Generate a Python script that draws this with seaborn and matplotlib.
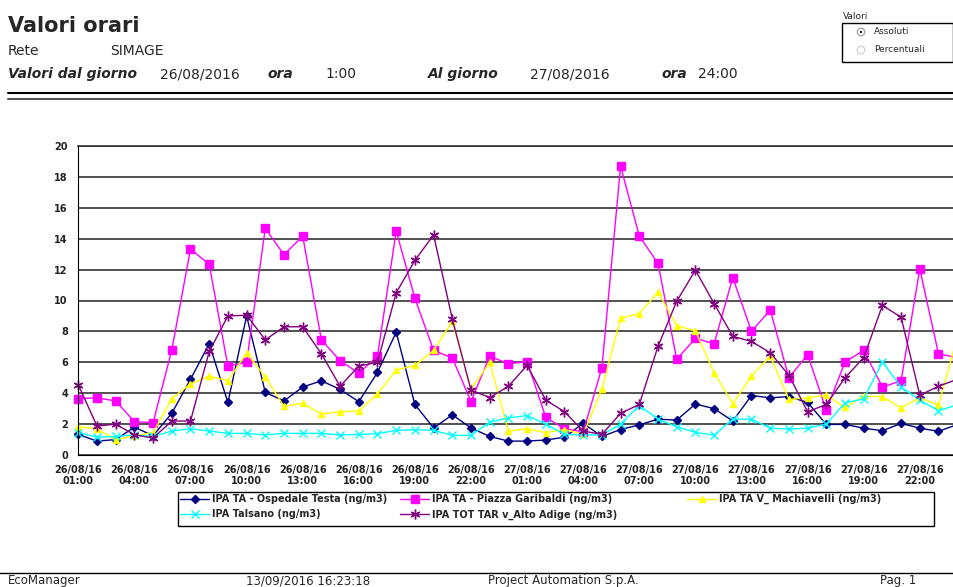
import matplotlib
matplotlib.use('Agg')
import matplotlib.pyplot as plt
import seaborn as sns
from matplotlib.patches import Rectangle, Circle

# hourly values 26/08/2016 01:00 -> 27/08/2016 24:00 (ng/m3)
ospedale_testa = [1.33, 0.9, 1.0, 1.8, 1.25, 2.7, 4.9, 7.2, 3.4, 9.0, 4.05, 3.5, 4.4, 4.8, 4.25,
                  3.45, 5.35, 7.95, 3.27, 1.75, 2.6, 1.75, 1.2, 0.9, 0.9, 0.97, 1.15, 2.05, 1.2, 1.65, 1.95,
                  2.32, 2.26, 3.3, 3.0, 2.2, 3.85, 3.7, 3.78, 3.4, 1.98, 1.98, 1.74, 1.57, 2.04, 1.74, 1.53, 1.97]
piazza_garibaldi = [3.65, 3.7, 3.5, 2.15, 2.1, 6.8, 13.33, 12.34, 5.75, 6.0, 14.67, 12.96, 14.17, 7.45, 6.1,
                    5.3, 6.4, 14.5, 10.14, 6.77, 6.28, 3.46, 6.4, 5.9, 6.05, 2.43, 1.7, 1.5, 5.65, 18.7, 14.17,
                    12.4, 6.2, 7.55, 7.2, 11.48, 8.0, 9.39, 5.0, 6.5, 2.9, 6.02, 6.77, 4.4, 4.8, 12.04, 6.54, 6.31]
machiavelli = [1.83, 1.7, 0.97, 1.25, 1.45, 3.65, 4.6, 5.1, 4.8, 6.6, 5.05, 3.15, 3.35, 2.65, 2.8,
               2.85, 3.95, 5.5, 5.8, 6.77, 8.65, 4.25, 6.0, 1.55, 1.7, 1.45, 1.65, 1.35, 4.25, 8.85, 9.15,
               10.53, 8.38, 8.02, 5.33, 3.33, 5.1, 6.4, 3.6, 3.7, 3.87, 3.08, 3.8, 3.78, 3.05, 3.72, 3.22, 7.6]
talsano = [1.45, 1.15, 1.2, 1.3, 1.2, 1.55, 1.7, 1.55, 1.4, 1.4, 1.3, 1.4, 1.4, 1.4, 1.3,
           1.33, 1.38, 1.6, 1.63, 1.6, 1.27, 1.27, 2.13, 2.4, 2.55, 2.0, 1.33, 1.3, 1.3, 2.0, 3.2,
           2.32, 1.83, 1.46, 1.29, 2.32, 2.32, 1.74, 1.68, 1.74, 2.0, 3.38, 3.63, 6.02, 4.4, 3.55, 2.86, 3.25]
alto_adige = [4.55, 1.87, 2.0, 1.3, 1.1, 2.2, 2.2, 6.7, 9.0, 9.05, 7.45, 8.3, 8.3, 6.55, 4.45,
              5.76, 6.0, 10.5, 12.6, 14.24, 8.8, 4.2, 3.72, 4.45, 5.8, 3.55, 2.8, 1.55, 1.33, 2.7, 3.27,
              7.03, 9.95, 11.97, 9.8, 7.68, 7.35, 6.62, 5.16, 2.8, 3.27, 5.0, 6.3, 9.68, 8.92, 3.87, 4.45, 4.9]

tick_labels = ["26/08/16\n01:00", "26/08/16\n04:00", "26/08/16\n07:00", "26/08/16\n10:00",
               "26/08/16\n13:00", "26/08/16\n16:00", "26/08/16\n19:00", "26/08/16\n22:00",
               "27/08/16\n01:00", "27/08/16\n04:00", "27/08/16\n07:00", "27/08/16\n10:00",
               "27/08/16\n13:00", "27/08/16\n16:00", "27/08/16\n19:00", "27/08/16\n22:00"]

series = [
    ("IPA TA - Ospedale Testa (ng/m3)", ospedale_testa, "#000080", "D", 4.0),
    ("IPA TA - Piazza Garibaldi (ng/m3)", piazza_garibaldi, "#FF00FF", "s", 6.0),
    ("IPA TA V_ Machiavelli (ng/m3)", machiavelli, "#FFFF00", "^", 5.0),
    ("IPA Talsano (ng/m3)", talsano, "#00FFFF", "x", 5.5),
    ("IPA TOT TAR v_Alto Adige (ng/m3)", alto_adige, "#800080", (6, 2, 0), 7.0),
]

sns.set_style("white")
plt.rcParams['font.family'] = ['DejaVu Sans']

W, H = 954, 587
fig = plt.figure(figsize=(W / 100, H / 100), dpi=100)

# page overlay in pixel coordinates
bg = fig.add_axes([0, 0, 1, 1])
bg.set_xlim(0, W)
bg.set_ylim(H, 0)
bg.axis('off')

bg.text(8, 32, "Valori orari", fontsize=15, fontweight='bold', va='baseline')
bg.text(8, 55, "Rete", fontsize=10, va='baseline')
bg.text(110, 55, "SIMAGE", fontsize=10, va='baseline')
for x, s, bold in [(8, "Valori dal giorno", True), (160, "26/08/2016", False), (268, "ora", True),
                   (325, "1:00", False), (428, "Al giorno", True), (530, "27/08/2016", False),
                   (662, "ora", True), (698, "24:00", False)]:
    bg.text(x, 78, s, fontsize=10, va='baseline',
            fontweight='bold' if bold else 'normal', fontstyle='italic' if bold else 'normal')
bg.plot([8, 953], [93, 93], color='black', lw=1.5)
bg.plot([8, 953], [99, 99], color='#555555', lw=1.5)

# radio box
bg.text(843, 19, "Valori", fontsize=6.5, va='baseline')
bg.add_patch(Rectangle((842, 23), 111, 39, fill=False, edgecolor='black', lw=1))
bg.add_patch(Circle((861, 32), 3.8, facecolor='white', edgecolor='#999999', lw=0.8))
bg.add_patch(Circle((861, 32), 1.8, facecolor='black'))
bg.add_patch(Circle((861, 50), 3.8, facecolor='white', edgecolor='#cccccc', lw=0.8))
bg.text(874, 32, "Assoluti", fontsize=6.5, va='center')
bg.text(874, 50, "Percentuali", fontsize=6.5, va='center')

# legend frame
bg.add_patch(Rectangle((178, 492), 756, 34, fill=False, edgecolor='black', lw=1))

# footer
bg.plot([0, W], [573, 573], color='black', lw=1)
for x, s in [(8, "EcoManager"), (246, "13/09/2016 16:23:18"),
             (488, "Project Automation S.p.A."), (880, "Pag. 1")]:
    bg.text(x, 584, s, fontsize=8.5, va='baseline')

# chart (extends past the right edge, as in the report)
ax = fig.add_axes([78.3 / W, 1 - 455 / H, 47 * 18.7 / W, 309 / H])
ax.set_facecolor('none')
x_idx = list(range(len(ospedale_testa)))
for name, vals, col, mk, ms in series:
    sns.lineplot(x=x_idx, y=vals, ax=ax, color=col, marker=mk, markersize=ms,
                 markeredgecolor=col, markerfacecolor=col, markeredgewidth=1.0,
                 linewidth=1.0, label=name, clip_on=False)

ax.set_xlim(0, 47)
ax.set_ylim(0, 20)
ax.set_yticks(range(0, 21, 2))
ax.set_xticks(x_idx)
xlabels = [''] * len(x_idx)
for k, lab in enumerate(tick_labels):
    xlabels[3 * k] = lab
ax.set_xticklabels(xlabels)
ax.yaxis.grid(True, color='#333333', lw=1.2)
ax.set_axisbelow(True)
ax.spines['right'].set_visible(False)
ax.spines['top'].set_color('#333333')
ax.spines['top'].set_linewidth(1.2)
ax.spines['left'].set_color('black')
ax.spines['bottom'].set_color('black')
ax.tick_params(axis='both', direction='out', length=4, width=1, color='black',
               labelsize=7, labelcolor='#222222')
ax.tick_params(axis='x', pad=3)
for t in ax.get_xticklabels() + ax.get_yticklabels():
    t.set_fontweight('bold')
ax.set_xlabel('')
ax.set_ylabel('')

handles, labels = ax.get_legend_handles_labels()
if ax.get_legend() is not None:
    ax.get_legend().remove()

# legend columns placed like the report (fixed column starts)
for x0, idx in [(180, [0, 3]), (400, [1, 4]), (687, [2])]:
    leg = fig.legend([handles[i] for i in idx], [labels[i] for i in idx], ncol=1,
                     loc='upper left', bbox_to_anchor=(x0 / W, 1 - 494 / H),
                     frameon=False, fontsize=7, handlelength=3.0, handletextpad=0.25,
                     borderpad=0, labelspacing=0.55, borderaxespad=0)
    for t in leg.get_texts():
        t.set_fontweight('bold')

fig.savefig('out.png', dpi=100)
